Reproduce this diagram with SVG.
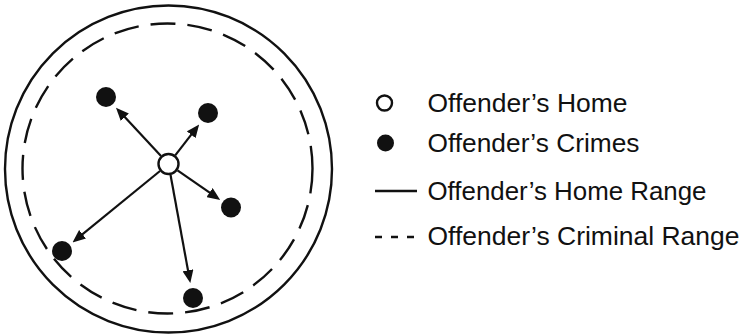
<svg xmlns="http://www.w3.org/2000/svg" width="743" height="335" viewBox="0 0 743 335">
  <style>
    .ring { fill: none; stroke: #111; stroke-width: 2.4; }
    .dash { stroke-dasharray: 25 12; }
    .home { fill: #fff; stroke: #111; stroke-width: 2.4; }
    .crime { fill: #111; }
    .arrow { stroke: #111; stroke-width: 2.2; fill: none; marker-end: url(#ah); }
    .label { font-family: "Liberation Sans", Arial, sans-serif; font-size: 25.5px; fill: #111; }
  </style>
  <defs>
    <marker id="ah" markerUnits="userSpaceOnUse" markerWidth="13" markerHeight="11" refX="9" refY="5.5" orient="auto">
      <path d="M0,0 L13,5.5 L0,11 z" fill="#111"/>
    </marker>
  </defs>
  <rect width="743" height="335" fill="#fff"/>
  <g id="home-range">
    <circle class="ring" cx="168.5" cy="169" r="163.5"/>
  </g>
  <g id="criminal-range">
    <circle class="ring dash" cx="167.5" cy="168.5" r="145"/>
  </g>
  <g id="connectors">
    <line class="arrow" x1="161.0" y1="156.0" x2="118.7" y2="110.6"/>
    <line class="arrow" x1="175.2" y1="155.3" x2="196.7" y2="127.6"/>
    <line class="arrow" x1="177.5" y1="170.3" x2="216.9" y2="197.7"/>
    <line class="arrow" x1="160.0" y1="171.0" x2="75.6" y2="239.9"/>
    <line class="arrow" x1="170.5" y1="174.8" x2="189.6" y2="279.1"/>
  </g>
  <g id="home">
    <circle class="home" cx="168.5" cy="164" r="10"/>
  </g>
  <g id="crime1"><circle class="crime" cx="106" cy="97" r="10"/></g>
  <g id="crime2"><circle class="crime" cx="208" cy="113" r="10"/></g>
  <g id="crime3"><circle class="crime" cx="231" cy="207.5" r="10"/></g>
  <g id="crime4"><circle class="crime" cx="62" cy="251" r="10"/></g>
  <g id="crime5"><circle class="crime" cx="193" cy="298" r="10"/></g>
  <g id="legend">
    <g id="legend-home">
      <circle class="home" cx="384.5" cy="103" r="7.5"/>
      <text class="label" x="427.5" y="111.5" textLength="200" lengthAdjust="spacingAndGlyphs">Offender’s Home</text>
    </g>
    <g id="legend-crimes">
      <circle class="crime" cx="385.5" cy="143" r="8.5"/>
      <text class="label" x="427.5" y="151.5" textLength="212" lengthAdjust="spacingAndGlyphs">Offender’s Crimes</text>
    </g>
    <g id="legend-home-range">
      <line x1="375" y1="191" x2="417" y2="191" stroke="#111" stroke-width="2.4"/>
      <text class="label" x="427.5" y="199.5" textLength="279" lengthAdjust="spacingAndGlyphs">Offender’s Home Range</text>
    </g>
    <g id="legend-criminal-range">
      <line x1="375" y1="237" x2="415" y2="237" stroke="#111" stroke-width="2.4" stroke-dasharray="7 9"/>
      <text class="label" x="427.5" y="245" textLength="312" lengthAdjust="spacingAndGlyphs">Offender’s Criminal Range</text>
    </g>
  </g>
</svg>
